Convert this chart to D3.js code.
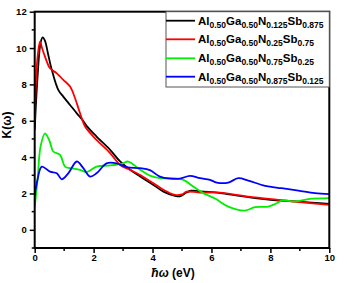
<!DOCTYPE html>
<html><head><meta charset="utf-8">
<script src="https://cdn.jsdelivr.net/npm/d3@7"></script>
<style>body{margin:0;background:#fff}svg{display:block}</style>
</head><body>
<script>
const xTicks=[0,2,4,6,8,10];
const yTicks=[0,2,4,6,8,10,12];
const seriesNames=["black","red","green","blue"];
const blackX=[0,0.1,0.2,0.27,0.35,0.45,0.58,0.8,0.97,1.2,1.43,1.62,1.76,2.1,2.56,2.9,3.24,3.58,4.03,4.37,4.76,4.95,5.15,5.3,5.61,6.2,6.6,7.3,8.2,9.0,10];
const blackY=[5.5,8.5,10.3,10.59,10.4,9.7,8.8,7.7,7.33,6.87,6.41,6.05,5.72,5.13,4.4,3.76,3.3,2.93,2.47,2.1,1.87,1.85,2.05,2.15,2.12,2.05,1.95,1.78,1.62,1.55,1.42];
const redX=[0,0.08,0.18,0.25,0.35,0.52,0.75,0.97,1.2,1.37,1.54,1.71,2.1,2.56,2.9,3.24,3.58,4.03,4.37,4.76,5.0,5.16,5.61,6.29,7.25,8.38,9.0,10];
const redY=[6.0,9.2,10.35,10.0,9.53,8.89,8.61,8.25,7.88,7.24,6.41,5.68,4.95,4.22,3.57,3.3,3.02,2.56,2.2,1.92,1.95,2.1,2.05,2.05,1.83,1.63,1.52,1.37];
const greenX=[0,0.1,0.2,0.35,0.5,0.63,0.86,1.03,1.2,1.54,1.76,2.1,2.56,3.0,3.15,3.3,3.58,3.91,4.25,4.7,5.05,5.38,5.72,6.12,6.57,7.14,7.48,7.93,8.2,8.4,8.84,9.29,10];
const greenY=[1.25,2.8,4.6,5.31,4.9,4.31,4.12,3.48,3.39,3.3,3.17,3.48,3.54,3.66,3.76,3.65,3.3,2.98,2.84,2.84,2.75,2.38,2.02,1.72,1.28,1.06,1.25,1.28,1.45,1.62,1.56,1.69,1.74];
const blueX=[0,0.1,0.24,0.52,0.75,0.92,1.14,1.43,1.65,1.88,2.1,2.44,2.78,3.12,3.58,3.91,4.25,4.59,4.93,5.27,5.61,5.95,6.18,6.57,6.91,7.25,7.82,8.38,8.95,9.51,10];
const blueY=[1.9,2.8,3.48,3.2,3.11,2.78,3.11,3.76,3.39,2.93,3.11,3.66,3.66,3.45,3.39,3.28,2.93,2.82,2.82,2.97,2.84,2.75,2.6,2.6,2.84,2.71,2.42,2.29,2.16,2.02,1.96];
const labels=[["0.125","0.875"],["0.25","0.75"],["0.75","0.25"],["0.875","0.125"]];
const colors=["#000000","#ff0000","#00ee00","#0000ff"];

const W=347,H=283;
const L=34.7,R=329.3,T=11.7,B=248;
const svg=d3.select("body").append("svg").attr("width",W).attr("height",H);
const x=d3.scaleLinear().domain([0,10]).range([L,R]);
const y=d3.scaleLinear().domain([-1,12]).range([B,T]);
const font="'Liberation Sans',Arial,sans-serif";

const series=[[blackX,blackY],[redX,redY],[greenX,greenY],[blueX,blueY]];
const line=d3.line().x(d=>x(d[0])).y(d=>y(d[1])).curve(d3.curveCatmullRom.alpha(0.5));
const g=svg.append("g");
g.append("defs").append("clipPath").attr("id","c").append("rect").attr("x",L).attr("y",T).attr("width",R-L).attr("height",B-T);
// draw in order black, red, green, blue? red over black appears; order: black, red, green, blue
[0,1,2,3].forEach(i=>{
  const pts=series[i][0].map((v,k)=>[v,series[i][1][k]]);
  g.append("path").attr("d",line(pts)).attr("fill","none").attr("stroke",colors[i]).attr("stroke-width",1.8).attr("clip-path","url(#c)");
});

// frame
svg.append("rect").attr("x",L).attr("y",T).attr("width",R-L).attr("height",B-T).attr("fill","none").attr("stroke","#000").attr("stroke-width",2);

// x axis
const xa=svg.append("g").attr("transform",`translate(0,${B})`);
xa.call(d3.axisBottom(x).tickValues(xTicks).tickSize(5).tickFormat(d3.format("d")));
xa.select(".domain").remove();
xa.selectAll(".tick line").attr("stroke-width",1.5);
xa.selectAll(".tick text").attr("font-family",font).attr("font-weight","bold").attr("font-size","9.5px").attr("dy","0.9em").attr("y",4);
[1,3,5,7,9].forEach(v=>xa.append("line").attr("x1",x(v)).attr("x2",x(v)).attr("y1",0).attr("y2",3).attr("stroke","#000").attr("stroke-width",1.5));

// y axis
const ya=svg.append("g").attr("transform",`translate(${L},0)`);
ya.call(d3.axisLeft(y).tickValues(yTicks).tickSize(5).tickFormat(d3.format("d")));
ya.select(".domain").remove();
ya.selectAll(".tick line").attr("stroke-width",1.5);
ya.selectAll(".tick text").attr("font-family",font).attr("font-weight","bold").attr("font-size","9.5px").attr("x",-8);
[-1,1,3,5,7,9,11].forEach(v=>ya.append("line").attr("x1",0).attr("x2",-3).attr("y1",y(v)).attr("y2",y(v)).attr("stroke","#000").attr("stroke-width",1.5));

// axis titles
const xt=svg.append("text").attr("x",173).attr("y",277).attr("text-anchor","middle").attr("font-family",font).attr("font-weight","bold").attr("font-size","12px");
xt.append("tspan").attr("font-style","italic").text("ħω");
xt.append("tspan").text(" (eV)");
svg.append("text").attr("transform","translate(11,125) rotate(-90)").attr("text-anchor","middle").attr("font-family",font).attr("font-weight","bold").attr("font-size","12px").text("K(ω)");

// legend
const lg=svg.append("g");
lg.append("rect").attr("x",166).attr("y",T).attr("width",R-166).attr("height",87-T).attr("fill","#fff").attr("stroke","#555").attr("stroke-width",1);
const rows=[20.7,39.3,58.3,76.7];
labels.forEach((lab,i)=>{
  lg.append("line").attr("x1",166).attr("x2",195).attr("y1",rows[i]).attr("y2",rows[i]).attr("stroke",colors[i]).attr("stroke-width",1.8);
  const t=lg.append("text").attr("x",198).attr("y",rows[i]+4).attr("font-family",font).attr("font-weight","bold").attr("font-size","11.5px");
  const parts=[["Al",""],["0.50","s"],["Ga",""],["0.50","s"],["N",""],[lab[0],"s"],["Sb",""],[lab[1],"s"]];
  parts.forEach(p=>{
    const ts=t.append("tspan").text(p[0]);
    if(p[1]==="s"){ts.attr("font-size","8.5px").attr("dy",3);} else {ts.attr("dy",-3);}
  });
  t.select("tspan").attr("dy",0);
});
</script>
</body></html>
